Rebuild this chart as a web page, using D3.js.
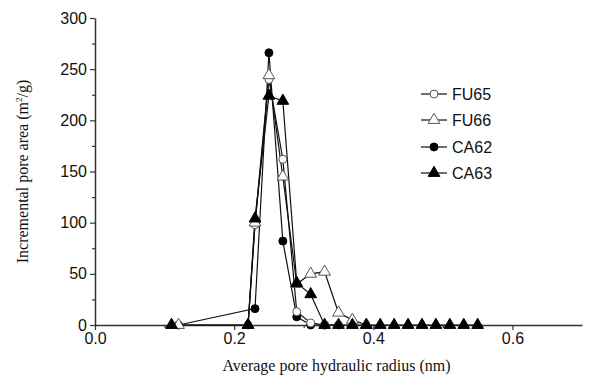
<!DOCTYPE html>
<html>
<head>
<meta charset="utf-8">
<script src="https://cdn.jsdelivr.net/npm/d3@7"></script>
<style>
  html, body { margin: 0; padding: 0; background: #fff; }
  svg { display: block; }
</style>
</head>
<body>
<svg id="chart" width="598" height="383"></svg>
<script>
// ---- data ----
const seriesNames = ["FU65", "FU66", "CA62", "CA63"];

const fu65X = [0.22, 0.23, 0.25, 0.27, 0.29, 0.31, 0.33, 0.35];
const fu65Y = [0, 98, 240, 162, 13, 2, 0, 0];

const fu66X = [0.12, 0.22, 0.23, 0.25, 0.27, 0.29, 0.31, 0.33, 0.35, 0.37, 0.39];
const fu66Y = [0, 0, 100, 244, 145, 40, 50, 52, 12, 5, 0];

const ca62X = [0.12, 0.23, 0.25, 0.27, 0.29, 0.31, 0.33];
const ca62Y = [0, 16, 266, 82, 8, 0, 0];

const ca63X = [0.11, 0.22, 0.23, 0.25, 0.27, 0.29, 0.31, 0.33, 0.35, 0.37, 0.39, 0.41, 0.43, 0.45, 0.47, 0.49, 0.51, 0.53, 0.55];
const ca63Y = [0, 0, 104, 224, 219, 41, 30, 0, 0, 0, 0, 0, 0, 0, 0, 0, 0, 0, 0];

const xMajorTicks = [0.0, 0.2, 0.4, 0.6];
const xMinorTicks = [0.1, 0.3, 0.5];
const yMajorTicks = [0, 50, 100, 150, 200, 250, 300];
const yMinorTicks = [25, 75, 125, 175, 225, 275];

const xTitle = "Average pore hydraulic radius (nm)";

// ---- build ----
const svg = d3.select("#chart");
const x = d3.scaleLinear().domain([0, 0.7]).range([95, 582]);
const y = d3.scaleLinear().domain([0, 300]).range([325, 18]);

const axisColor = "#333";

// X axis
const gx = svg.append("g").attr("transform", `translate(0,${y(0)})`);
gx.call(d3.axisBottom(x).tickValues(xMajorTicks).tickFormat(d3.format(".1f")).tickSize(5).tickPadding(3).tickSizeOuter(0));
gx.append("g").call(d3.axisBottom(x).tickValues(xMinorTicks).tickFormat("").tickSize(3).tickSizeOuter(0))
  .select(".domain").remove();
// Y axis
const gy = svg.append("g").attr("transform", `translate(${x(0)},0)`);
gy.call(d3.axisLeft(y).tickValues(yMajorTicks).tickSize(5).tickPadding(3).tickSizeOuter(0));
gy.append("g").call(d3.axisLeft(y).tickValues(yMinorTicks).tickFormat("").tickSize(3).tickSizeOuter(0))
  .select(".domain").remove();

svg.selectAll(".domain").attr("stroke", axisColor).attr("stroke-width", 1.5);
svg.selectAll(".tick line").attr("stroke", axisColor).attr("stroke-width", 1.2);
svg.selectAll(".tick text")
  .attr("font-family", "Liberation Sans, Arial, sans-serif")
  .attr("font-size", 16).attr("fill", "#111");

// titles
svg.append("text")
  .attr("x", (x(0) + x(0.7)) / 2 - 2).attr("y", 371)
  .attr("text-anchor", "middle")
  .attr("font-family", "Liberation Serif, Times New Roman, serif")
  .attr("font-size", 16).attr("fill", "#111")
  .text(xTitle);

const yt = svg.append("text")
  .attr("transform", `translate(28,${(y(0) + y(300)) / 2}) rotate(-90)`)
  .attr("text-anchor", "middle")
  .attr("font-family", "Liberation Serif, Times New Roman, serif")
  .attr("font-size", 16).attr("fill", "#111");
yt.append("tspan").text("Incremental pore area (m");
yt.append("tspan").attr("dy", -6).attr("font-size", 9).text("2");
yt.append("tspan").attr("dy", 6).text("/g)");

// series
const series = [
  { name: "CA62", xs: ca62X, ys: ca62Y, shape: "circle", fill: "#000" },
  { name: "FU65", xs: fu65X, ys: fu65Y, shape: "circle", fill: "#fff" },
  { name: "FU66", xs: fu66X, ys: fu66Y, shape: "triangle", fill: "#fff" },
  { name: "CA63", xs: ca63X, ys: ca63Y, shape: "triangle", fill: "#000" }
];

const circleSym = d3.symbol().type(d3.symbolCircle).size(50);
const triSym = d3.symbol().type(d3.symbolTriangle).size(60);

const line = d3.line().x(d => x(d[0])).y(d => y(d[1]));

series.forEach(s => {
  const pts = s.xs.map((v, i) => [v, s.ys[i]]);
  svg.append("path").datum(pts)
    .attr("d", line).attr("fill", "none")
    .attr("stroke", "#111").attr("stroke-width", 1.2);
});
series.forEach(s => {
  const pts = s.xs.map((v, i) => [v, s.ys[i]]);
  svg.append("g").selectAll("path").data(pts).join("path")
    .attr("transform", d => `translate(${x(d[0])},${y(d[1])})`)
    .attr("d", s.shape === "circle" ? circleSym() : triSym())
    .attr("fill", s.fill)
    .attr("stroke", s.fill === "#000" ? "#000" : "#555")
    .attr("stroke-width", 1);
});

// legend
const legendOrder = ["FU65", "FU66", "CA62", "CA63"];
const legY = [94, 120, 147, 173];
legendOrder.forEach((nm, i) => {
  const s = series.find(d => d.name === nm);
  const g = svg.append("g").attr("transform", `translate(0,${legY[i]})`);
  g.append("line").attr("x1", 421).attr("x2", 447).attr("y1", 0).attr("y2", 0)
    .attr("stroke", "#111").attr("stroke-width", 1.2);
  g.append("path").attr("transform", "translate(434,0)")
    .attr("d", s.shape === "circle" ? circleSym() : triSym())
    .attr("fill", s.fill).attr("stroke", s.fill === "#000" ? "#000" : "#555");
  g.append("text").attr("x", 452).attr("y", 6)
    .attr("font-family", "Liberation Sans, Arial, sans-serif")
    .attr("font-size", 16).attr("fill", "#111").text(nm);
});
</script>
</body>
</html>
